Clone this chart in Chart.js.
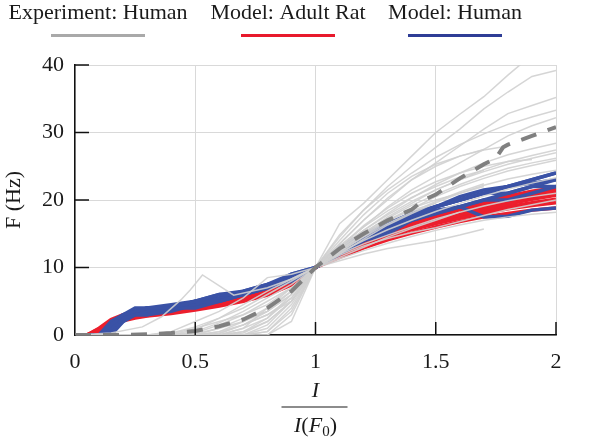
<!DOCTYPE html>
<html lang="en">
<head>
<meta charset="UTF-8" />
<title>F-I curves</title>
<script src="https://cdn.jsdelivr.net/npm/chart.js"></script>
<style>
  body { margin: 0; background: #fff; }
  .wrap { position: relative; width: 600px; height: 440px; }
</style>
</head>
<body>
<div class="wrap"><canvas id="chart" width="600" height="440"></canvas></div>
<script>
// normalised current I / I(F0)
const expX = [0, 0.1, 0.2, 0.3, 0.4, 0.5, 0.6, 0.7, 0.8, 0.9, 1, 1.1, 1.2, 1.3, 1.4, 1.5, 1.6, 1.7, 1.8, 1.9, 2];

// experiment: human, one array per cell (Hz)
const expHuman = [
  [0, 0, 0, 0, 0, 0, 0, 1, 4, 7, 10, 16.5, 19.5, 23, 26.5, 30, 32.7, 35.3, 38.5, 41.5, 44],
  [0, 0, 0, 0, 0, 0.3, 1.5, 3, 5, 7, 10, 14.5, 18.5, 22, 25, 27.8, 30.5, 33.5, 36, 38.3, 39.2],
  [0, 0, 0, 0, 0, 0, 0.5, 2, 4, 6.5, 10, 13.5, 17, 20, 23, 25.5, 28, 30.5, 32.8, 34, 35.2],
  [0, 0, 0, 0, 0.3, 1.2, 2.5, 4, 6, 8, 10, 13, 16, 19, 21.5, 23.5, 25.5, 27.5, 29.5, 31, 32.2],
  [0, 0, 0, 0, 0, 0, 0, 0.5, 2, 5, 10, 12.8, 15.5, 18, 20.3, 22.3, 24, 25.5, 26.7, 27.6, 28.4],
  [0, 0, 0, 0, 0, 0, 0, 0, 0.5, 4, 10, 12.5, 15, 17.5, 19.5, 21.5, 23, 24.5, 25.7, 26.6, 27.4],
  [0, 0, 0, 0, 0.5, 2, 3.5, 5.5, 8.5, 9, 10, 12.3, 14.6, 16.8, 18.7, 20.5, 22, 23.2, 24.3, 25.1, 25.9],
  [0, 0, 0, 0, 0, 0.8, 2.5, 4.5, 6.5, 8.3, 10, 12, 14.2, 16.3, 18, 19.6, 21, 22.2, 23.1, 23.8, 24.4],
  [0, 0, 0, 0, 0, 0, 1, 2.5, 3.5, 6, 10, 13, 16.2, 18.8, 21, 22.7, 24, 25, 25.7, 26],
  [0, 0, 0, 0, 0, 0, 0, 0, 0, 3, 10, 14, 17.8, 21, 23.5, 25.3, 26.5, 27.4, 28],
  [0, 0, 0, 0, 0, 0.5, 1.8, 3.5, 5.5, 7.5, 10, 13.5, 17, 20.3, 23, 25, 26.5, 27.5],
  [0, 0, 0, 0, 0, 0, 0.2, 1.5, 3, 5.5, 10, 11, 12, 12.8, 13.4, 14, 14.8, 15.7],
  [0, 0, 0, 0, 0, 0, 0, 0, 1, 4.5, 10, 11.3, 12.5, 13.6, 14.6, 15.5, 16.3, 17, 17.5, 17.9, 18.2],
  [0, 0, 0, 0, 0, 0, 0.3, 1.5, 3.5, 6.5, 10, 11.8, 13.2, 14.3, 15.2, 15.9, 16.8, 17.7, 18.6, 19.3, 20],
  [0, 0, 0, 0, 0, 0, 0, 0.3, 2, 5, 10, 12, 13.5, 14.8, 16, 17.2, 18.2, 19.1, 19.9, 20.5, 21],
  [0, 0, 0, 0, 0.2, 1, 2, 3, 4.5, 7, 10, 12.5, 14.8, 17, 18.8, 20, 21, 22],
  [0, 0, 0, 0, 0, 0, 0, 0, 0, 2, 10, 13, 15.5, 17.8, 19.8, 21.5, 23, 24.2, 25.3, 26.2, 27],
  [0, 0, 0, 0, 0, 0, 0.5, 1.5, 3, 5, 10, 12.3, 14.5, 16.5, 18.2, 19.8, 21.2, 22.4],
  [0, 0, 0, 0, 0, 0, 0, 1, 2.5, 5.5, 10, 11.5, 13, 14.5, 15.8, 17, 18.2],
  [0, 0, 0, 0, 0, 0, 0, 0, 1.5, 5, 10, 12.6, 15, 17, 18.5, 19.5],
  [0, 0, 0, 0, 0, 0.2, 1, 2, 3.5, 6, 10, 12.8, 15.2, 17.3, 19.2, 20.8, 22.3, 23.6, 24.7, 25.5, 26.2],
  [0, 0, 0, 0, 0, 0, 0, 0.5, 2.5, 6, 10, 14.8, 18.5, 21.5, 24, 26.3, 28.2, 29.8, 31.2, 32.3, 33.3],
  [0, 0, 0, 0, 0, 0, 0, 0, 0.5, 3.5, 10, 13.2, 16, 18.4, 20.4, 22, 23.4, 24.4]
];

// one experimental cell with an early peak
const spikeX = [0, 0.15, 0.28, 0.36, 0.44, 0.48, 0.53, 0.66, 0.8, 0.9, 1, 1.1, 1.2, 1.3, 1.4, 1.5, 1.6, 1.7, 1.8, 1.9, 2];
const spikeY = [0, 0.3, 1.2, 2.7, 5.2, 6.7, 8.9, 5.9, 7, 8.3, 10, 12.2, 14, 15.6, 17, 18.3, 19.5, 20.6, 21.6, 22.5, 23.3];

// experimental mean (dashed)
const meanX = [0, 0.1, 0.2, 0.3, 0.4, 0.5, 0.6, 0.7, 0.8, 0.9, 1, 1.1, 1.2, 1.3, 1.4, 1.45, 1.5, 1.6, 1.7, 1.75, 1.78, 1.8, 1.9, 2];
const meanY = [0, 0, 0, 0.1, 0.3, 0.6, 1.3, 2.3, 4, 6.5, 10, 12.8, 15, 17, 18.6, 20, 20.8, 23.2, 25.3, 26.2, 27.8, 28.2, 29.5, 30.8];

const modelX = [0, 0.05, 0.1, 0.15, 0.2, 0.25, 0.3, 0.4, 0.5, 0.6, 0.7, 0.8, 0.9, 1, 1.1, 1.2, 1.3, 1.4, 1.5, 1.6, 1.7, 1.8, 1.9, 2];

const modelRat = [
  [0, 0, 0.6, 1.8, 2.6, 2.9, 3.1, 3.5, 4.1, 4.7, 5.4, 6.3, 7.8, 10, 11.9, 13.5, 14.9, 16.0, 17.0, 17.8, 18.6, 19.4, 20.1, 20.7],
  [0, 0, 0.9, 2.1, 2.8, 3.1, 3.3, 3.8, 4.4, 5.0, 5.7, 6.6, 8.0, 10, 12.1, 13.8, 15.2, 16.4, 17.4, 18.3, 19.1, 19.9, 20.6, 21.3],
  [0, 0, 0.4, 1.5, 2.3, 2.7, 2.9, 3.3, 3.9, 4.5, 5.2, 6.1, 7.6, 10, 11.7, 13.2, 14.5, 15.6, 16.5, 17.3, 18.0, 18.7, 19.2, 19.6],
  [0, 0, 0.7, 1.9, 2.5, 2.8, 3.0, 3.6, 4.3, 4.9, 5.6, 6.5, 7.9, 10, 12.0, 13.7, 15.1, 16.3, 17.3, 18.2, 19.0, 19.8, 20.5, 21.0],
  [0, 0, 1.0, 2.3, 3.0, 3.3, 3.5, 4.0, 4.6, 5.2, 5.9, 6.8, 8.2, 10, 12.3, 14.1, 15.6, 16.9, 18.0, 18.9, 19.8, 20.6, 21.3, 21.8],
  [0, 0, 0.3, 1.3, 2.1, 2.5, 2.8, 3.2, 3.7, 4.3, 5.0, 5.9, 7.4, 10, 11.5, 12.9, 14.1, 15.1, 16.0, 16.8, 17.5, 18.0, 18.5, 18.8],
  [0, 0, 0.8, 2.0, 2.7, 3.0, 3.2, 3.7, 4.2, 4.8, 5.5, 6.4, 7.9, 10, 11.8, 13.4, 14.7, 15.8, 16.8, 17.6, 18.3, 19.0, 19.6, 20.1],
  [0, 0, 0.5, 1.6, 2.4, 2.8, 3.0, 3.4, 4.0, 4.6, 5.3, 6.2, 7.7, 10, 12.2, 13.9, 15.4, 16.7, 17.7, 18.6, 19.5, 20.3, 21.0, 21.5]
];

const modelHuman = [
  [0, 0, 0, 1.5, 3, 3.5, 4, 4, 5, 5, 6, 7, 8.5, 10, 12, 14, 16, 17, 19, 20, 21, 21, 22, 23],
  [0, 0, 0, 1, 2.5, 3, 3, 4, 4, 5, 6, 7, 8, 10, 12, 14, 15, 17, 18, 19, 20, 21, 22, 22],
  [0, 0, 0, 2, 3, 4, 4, 4, 5, 6, 6, 7, 9, 10, 13, 15, 16, 18, 19, 20, 21, 22, 23, 24],
  [0, 0, 0, 0.5, 2, 3, 3, 3.5, 4.5, 5, 6, 7, 8, 10, 12, 14, 15.5, 17, 18.5, 19, 17.5, 17.6, 18.5, 18.8],
  [0, 0, 0, 1.5, 3, 3.5, 4, 4.5, 5, 6, 6.5, 7.5, 9, 10, 12.5, 14.5, 16, 17.5, 19, 20, 21, 22, 22.5, 23],
  [0, 0, 0, 0, 2, 3, 3.5, 4, 4.5, 5.5, 6, 7, 8, 10, 12, 14, 15.5, 17, 18, 19, 20, 20, 21, 22],
  [0, 0, 0, 1, 2.5, 3.5, 4, 4, 5, 5.5, 6.5, 7.5, 8.5, 10, 12.5, 15, 16.5, 18, 19, 20.5, 21.5, 22, 23, 24]
];

const legendLabels = ['Experiment: Human', 'Model: Adult Rat', 'Model: Human'];
const legendColors = ['#a9a9a9', '#e8192c', '#2e3d96'];

const SERIF = '"Liberation Serif", "Times New Roman", serif';

function toPoints(xs, ys) {
  return ys.map((y, i) => ({ x: xs[i], y: y }));
}

const datasets = [];
datasets.push({
  label: 'mean', data: toPoints(meanX, meanY),
  borderColor: '#808080', borderWidth: 4, borderDash: [16, 12], order: 0
});
expHuman.forEach(ys => datasets.push({
  label: legendLabels[0], data: toPoints(expX, ys),
  borderColor: 'rgba(208,208,208,0.9)', borderWidth: 1.5, order: 1
}));
datasets.push({
  label: legendLabels[0], data: toPoints(spikeX, spikeY),
  borderColor: 'rgba(208,208,208,0.9)', borderWidth: 1.5, order: 1
});
modelHuman.forEach(ys => datasets.push({
  label: legendLabels[2], data: toPoints(modelX, ys),
  borderColor: '#3a52a6', borderWidth: 3.5, order: 2
}));
modelRat.forEach(ys => datasets.push({
  label: legendLabels[1], data: toPoints(modelX, ys),
  borderColor: '#ec1f2d', borderWidth: 3.5, order: 3
}));

const extras = {
  id: 'extras',
  afterDatasetsDraw(chart) {
    const ctx = chart.ctx, xs = chart.scales.x, ys = chart.scales.y, a = chart.chartArea;
    ctx.save();
    ctx.strokeStyle = '#111';
    ctx.lineWidth = 1.5;
    [0.5, 1, 1.5, 2].forEach(v => {
      const px = xs.getPixelForValue(v);
      ctx.beginPath(); ctx.moveTo(px, a.bottom); ctx.lineTo(px, a.bottom - 13); ctx.stroke();
    });
    [10, 20, 30, 40].forEach(v => {
      const py = ys.getPixelForValue(v);
      ctx.beginPath(); ctx.moveTo(a.left, py); ctx.lineTo(a.left + 14, py); ctx.stroke();
    });
    ctx.restore();
  },
  afterDraw(chart) {
    const ctx = chart.ctx;
    ctx.save();
    // legend: text row above short line swatches
    const centers = [98, 288, 455];
    ctx.font = '22px ' + SERIF;
    ctx.fillStyle = '#1a1a1a';
    ctx.textAlign = 'center';
    ctx.textBaseline = 'alphabetic';
    legendLabels.forEach((t, i) => {
      ctx.fillText(t, centers[i], 19);
      ctx.strokeStyle = legendColors[i];
      ctx.lineWidth = 3;
      ctx.beginPath(); ctx.moveTo(centers[i] - 47, 35.5); ctx.lineTo(centers[i] + 47, 35.5); ctx.stroke();
    });
    // x axis title as a fraction I / I(F0)
    const cx = chart.scales.x.getPixelForValue(1);
    ctx.font = 'italic 22px ' + SERIF;
    ctx.fillText('I', cx, 397);
    ctx.strokeStyle = '#1a1a1a';
    ctx.lineWidth = 1.2;
    ctx.beginPath(); ctx.moveTo(cx - 34, 407); ctx.lineTo(cx + 32, 407); ctx.stroke();
    const parts = [['I', 'italic 22px '], ['(', '22px '], ['F', 'italic 22px '], ['0', '15px '], [')', '22px ']];
    let w = 0;
    parts.forEach(p => { ctx.font = p[1] + SERIF; w += ctx.measureText(p[0]).width; });
    let x = cx - w / 2;
    ctx.textAlign = 'left';
    parts.forEach(p => {
      ctx.font = p[1] + SERIF;
      ctx.fillText(p[0], x, p[0] === '0' ? 436 : 432);
      x += ctx.measureText(p[0]).width;
    });
    ctx.restore();
  }
};

new Chart(document.getElementById('chart'), {
  type: 'line',
  data: { datasets: datasets },
  plugins: [extras],
  options: {
    responsive: false,
    animation: false,
    events: [],
    layout: { padding: { top: 65, right: 44, left: 0, bottom: 0 } },
    elements: { point: { radius: 0 }, line: { tension: 0, borderCapStyle: 'butt' } },
    plugins: { legend: { display: false }, tooltip: { enabled: false } },
    scales: {
      x: {
        type: 'linear', min: 0, max: 2,
        ticks: { stepSize: 0.5, padding: 14, color: '#1a1a1a', font: { family: SERIF, size: 22 },
                 callback: v => String(v) },
        grid: { color: '#d9d9d9', drawTicks: false },
        border: { color: '#111', width: 1.5 },
        afterFit(s) { s.height = 105; }
      },
      y: {
        min: 0, max: 40,
        ticks: { stepSize: 10, padding: 11, color: '#1a1a1a', font: { family: SERIF, size: 22 },
                 callback: v => String(v) },
        grid: { color: '#d9d9d9', drawTicks: false },
        border: { color: '#111', width: 1.5 },
        title: { display: true, text: 'F (Hz)', color: '#1a1a1a', padding: 1, font: { family: SERIF, size: 22 } },
        afterFit(s) { s.width = 75; }
      }
    }
  }
});
</script>
</body>
</html>
